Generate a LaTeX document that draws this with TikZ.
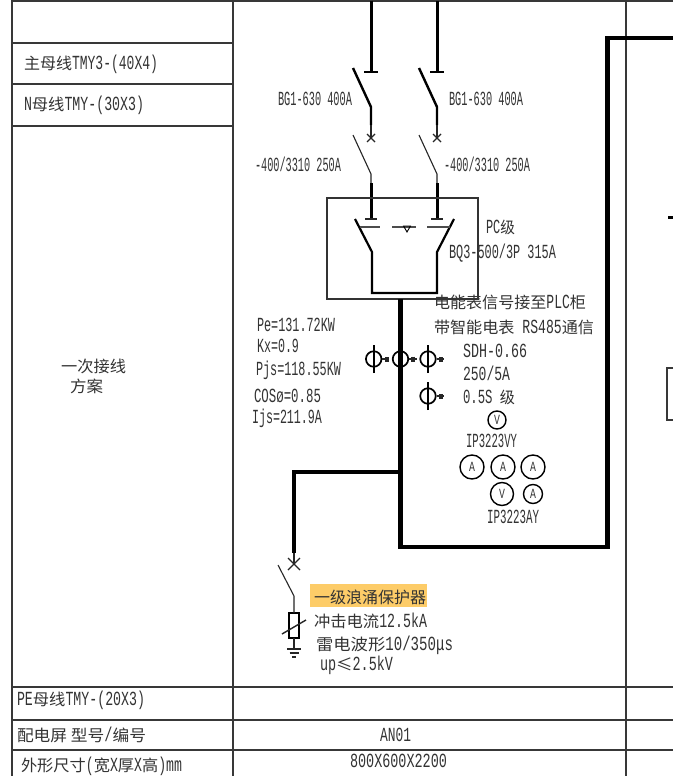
\documentclass[tikz,border=0pt]{standalone}
\usepackage{fontspec}
\usepackage{graphicx}
\usetikzlibrary{shapes.geometric}
\setmainfont{Noto Sans CJK SC}
\setmonofont{Liberation Mono}
\definecolor{hilite}{RGB}{253,204,104}
\newcommand\A[1]{\scalebox{.65}[1]{\ttfamily\fontsize{20}{20}\selectfont #1}}
\newcommand\M[1]{\scalebox{.7}[1]{\ttfamily\fontsize{14}{14}\selectfont #1}}
\newcommand\tl[5]{\node[lab] (#1) at (#2,#3) {\resizebox{#4pt}{\height}{#5}};}
\newcommand\ctsym[3]{%
 \node[ctring] (#1) at (#2,#3) {};
 \draw[thickwire,line width=2.2pt] ([yshift=-14pt]#1.center) coordinate (#1t) -- ([yshift=14pt]#1.center) coordinate (#1b);
 \draw[thinwire] (#1.east) -- ++(7,0) coordinate (#1e);
 \draw[thinwire,line width=1.4pt] ([xshift=3.5pt,yshift=-2.5pt]#1.east) -- ++(0,-5) ([xshift=5.5pt,yshift=-2.5pt]#1.east) -- ++(0,-5);
}
\tikzset{
 x=1pt,y=-1pt,
 grid/.style={draw=black!78,line width=1.3pt},
 lab/.style={anchor=west,inner sep=0pt,outer sep=0pt,text=black!80,font=\fontsize{16}{16}\selectfont},
 bus/.style={draw=black,line width=4.4pt,line join=miter},
 thickwire/.style={draw=black,line width=3.4pt},
 medwire/.style={draw=black,line width=2.2pt},
 thinwire/.style={draw=black!85,line width=1.1pt},
 ctring/.style={circle,draw=black,line width=1.7pt,minimum size=15.5pt,inner sep=0pt},
 meter/.style={circle,draw=black,line width=1.4pt,inner sep=0pt,text=black!78},
}
\begin{document}
\begin{tikzpicture}
\useasboundingbox (0,0) rectangle (673,776);
\fill[white] (0,0) rectangle (673,776);
% table
\draw[grid] (12,776) -- (12,1) -- (673,1);
\draw[grid] (233,1) -- (233,776);
\draw[grid] (626,1) -- (626,776);
\draw[grid] (12,43) -- (233,43) (12,84) -- (233,84) (12,126) -- (233,126);
\draw[grid] (12,687) -- (673,687) (12,720) -- (673,720) (12,750) -- (673,750);
% highlight
\fill[hilite] (310,584) rectangle (427,607);
% feeders
\foreach \n/\x in {a/371,b/437}{
 \coordinate (top\n) at (\x,1);
 \coordinate (bar\n) at (\x,72);
 \coordinate (hinge\n) at (\x,107);
 \coordinate (blade\n) at (\x-18,68);
 \coordinate (thk\n) at (\x,125);
 \coordinate (cross\n) at (\x,138);
 \coordinate (blb\n) at (\x-18,135);
 \coordinate (hib\n) at (\x,174);
 \coordinate (thc\n) at (\x,183);
 \coordinate (bar2\n) at (\x,219);
 \draw[thickwire,line width=3pt] (top\n) -- (bar\n);
 \draw[medwire] ([xshift=-7pt]bar\n) -- ([xshift=7pt]bar\n);
 \draw[medwire,line width=2.4pt] (blade\n) -- (hinge\n) -- (thk\n);
 \draw[thinwire] (thk\n) -- (cross\n);
 \draw[thinwire,line width=1.3pt] ([shift={(-4pt,-4pt)}]cross\n) -- ([shift={(4pt,4pt)}]cross\n);
 \draw[thinwire,line width=1.3pt] ([shift={(-4pt,4pt)}]cross\n) -- ([shift={(4pt,-4pt)}]cross\n);
 \draw[thinwire] (blb\n) -- (hib\n) -- (thc\n);
 \draw[thickwire,line width=3pt] (thc\n) -- (bar2\n);
 \draw[thinwire,line width=1.3pt] ([xshift=-6pt]bar2\n) -- ([xshift=6pt]bar2\n);
}
% PC box
\node[draw=black!80,line width=1.1pt,minimum width=151pt,minimum height=101pt,inner sep=0pt,outer sep=0pt] (pcbox) at (402.5,248.5) {};
\coordinate (la) at (355,219); \coordinate (lb) at (372,252); \coordinate (lc) at (372,293);
\coordinate (ra) at (454,219); \coordinate (rb) at (437,252); \coordinate (rc) at (437,293);
\draw[medwire,line join=miter] (la) -- (lb) -- (lc) -- (rc) -- (rb) -- (ra);
\draw[black!70,line width=1.3pt] (360,227) -- (380,227) (392,227) -- (416,227) (427,227) -- (450,227);
\node[regular polygon,regular polygon sides=3,shape border rotate=180,draw=black,line width=.9pt,minimum size=8pt,inner sep=0pt] (tri) at (407,228) {};
% main bus
\coordinate (b0) at (400.5,299);
\coordinate (b1) at (400.5,547);
\coordinate (b2) at (607.5,547);
\coordinate (b3) at (607.5,38);
\coordinate (b4) at (673,38);
\draw[bus] (b0) -- (b1) -- (b2) -- (b3) -- (b4);
% branch
\coordinate (j) at (400.5,472);
\coordinate (k) at (294,472);
\coordinate (d) at (294,553);
\coordinate (x) at (294,564);
\draw[thickwire,line join=miter] (j) -- (k) -- (d);
\draw[thinwire] (d) -- (x);
\draw[thinwire,line width=1.3pt] ([shift={(-6pt,-6pt)}]x) -- ([shift={(6pt,6pt)}]x);
\draw[thinwire,line width=1.3pt] ([shift={(-6pt,6pt)}]x) -- ([shift={(6pt,-6pt)}]x);
\coordinate (sb) at (278,565);
\coordinate (sh) at (294,596);
\node[draw=black,line width=1.3pt,minimum width=10pt,minimum height=25pt,inner sep=0pt,outer sep=0pt] (spd) at (294,625.5) {};
\draw[thinwire] (sb) -- (sh) -- (spd.north);
\coordinate (s1) at (282,634); \coordinate (s2) at (306,620);
\draw[thinwire,line width=1.4pt] (s1) -- (s2);
\coordinate (g) at (294,649);
\draw[thinwire] (spd.south) -- (g);
\draw[thinwire,line width=1.3pt] ([xshift=-7pt]g) -- ([xshift=7pt]g);
\draw[thinwire] (289.5,653) -- (298.5,653) (292,657) -- (296,657);
% CTs
\ctsym{cta}{373.7}{359}
\ctsym{ctc}{428}{359}
\ctsym{ctd}{428}{396}
\node[ctring] (ctb) at (400.5,359) {};
\draw[thinwire] (ctb.east) -- ++(8,0) coordinate (ctbe);
\draw[thinwire,line width=1.4pt] (412,356.5) -- (412,361.5) (414,356.5) -- (414,361.5);
% meters
\node[meter,minimum size=18pt] (mv1) at (497,420) {\M{V}};
\node[meter,minimum size=24pt] (ma1) at (472,467) {\M{A}};
\node[meter,minimum size=24pt] (ma2) at (503,467) {\M{A}};
\node[meter,minimum size=24pt] (ma3) at (533,467) {\M{A}};
\node[meter,minimum size=23pt] (mv2) at (502,494) {\M{V}};
\node[meter,minimum size=19pt] (ma4) at (533,494) {\M{A}};
% right column bits
\draw[thickwire,line width=2.2pt] (668,217.5) coordinate (r1) -- (673,217.5) coordinate (r2);
\draw[grid] (673,368) coordinate (r3) -- (667,368) -- (667,420) -- (673,420) coordinate (r4);
% texts: table
\tl{t1}{24}{64}{134}{主母线\A{TMY3-(40X4)}}
\tl{t2}{24}{105}{120}{\A{N}母线\A{TMY-(30X3)}}
\tl{t3}{61}{366}{65}{一次接线}
\tl{t4}{70}{386}{33}{方案}
\tl{t5}{17}{700}{128}{\A{PE}母线\A{TMY-(20X3)}}
\tl{t6}{17}{735}{129}{配电屏 型号\A{/}编号}
\tl{t7}{21}{766}{161}{外形尺寸\A{(}宽\A{X}厚\A{X}高\A{)mm}}
\tl{t8}{380}{735}{31}{\A{AN01}}
\tl{t9}{350}{761}{97}{\A{800X600X2200}}
% texts: diagram
\tl{l1}{278}{99}{74}{\A{BG1-630 400A}}
\tl{l2}{449}{99}{74}{\A{BG1-630 400A}}
\tl{l3}{255}{164}{86}{\A{-400/3310 250A}}
\tl{l4}{444}{164}{86}{\A{-400/3310 250A}}
\tl{l5}{486}{227}{29}{\A{PC}级}
\tl{l6}{449}{253}{107}{\A{BQ3-500/3P 315A}}
\tl{l7}{434}{302}{152}{电能表信号接至\A{PLC}柜}
\tl{l8}{434}{327}{160}{带智能电表\A{ RS485}通信}
\tl{l9}{463}{351}{64}{\A{SDH-0.66}}
\tl{l10}{463}{373}{47}{\A{250/5A}}
\tl{l11}{463}{397}{52}{\A{0.5S }级}
\tl{l12}{466}{441}{51}{\A{IP3223VY}}
\tl{l13}{487}{517}{52}{\A{IP3223AY}}
\tl{l14}{257}{325}{78}{\A{Pe=131.72KW}}
\tl{l15}{257}{346}{42}{\A{Kx=0.9}}
\tl{l16}{256}{370}{85}{\A{Pjs=118.55KW}}
\tl{l17}{254}{396}{67}{\A{COSø=0.85}}
\tl{l18}{252}{418}{70}{\A{Ijs=211.9A}}
\tl{l19}{314}{597}{112}{一级浪涌保护器}
\tl{l20}{314}{621}{113}{冲击电流\A{12.5kA}}
\tl{l21}{316}{645}{137}{雷电波形\A{10/350μs}}
\tl{l22}{320}{665}{73}{\A{up}≤\A{2.5kV}}
\end{tikzpicture}
\end{document}
